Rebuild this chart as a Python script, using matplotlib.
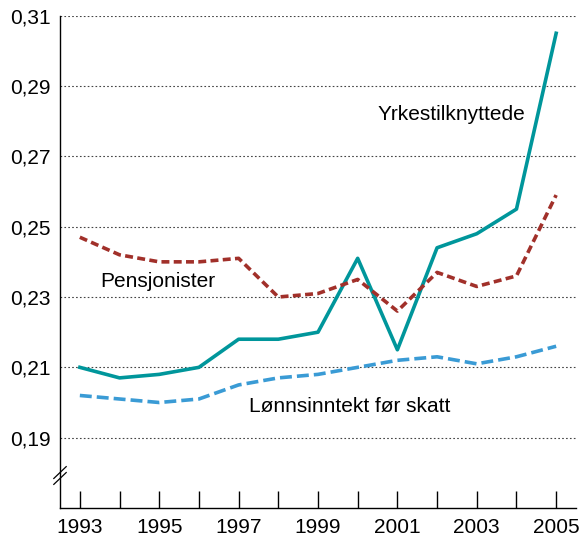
import matplotlib.pyplot as plt

years = list(range(1993, 2006))
yrkestilknyttede = [0.210, 0.207, 0.208, 0.210, 0.218, 0.218, 0.220, 0.241, 0.215, 0.244, 0.248, 0.255, 0.305]
pensjonister = [0.247, 0.242, 0.240, 0.240, 0.241, 0.230, 0.231, 0.235, 0.226, 0.237, 0.233, 0.236, 0.259]
lonnsinntekt = [0.202, 0.201, 0.200, 0.201, 0.205, 0.207, 0.208, 0.210, 0.212, 0.213, 0.211, 0.213, 0.216]
y_ticks = [0.19, 0.21, 0.23, 0.25, 0.27, 0.29, 0.31]
y_labels = ['0,19', '0,21', '0,23', '0,25', '0,27', '0,29', '0,31']

plt.rcParams['font.family'] = ['Liberation Sans', 'DejaVu Sans']

fig = plt.figure(figsize=(5.8, 5.37), dpi=100)
ax = fig.add_axes([60 / 580, 1 - 508 / 537, 516 / 580, (508 - 15.7) / 537])

# dotted gridlines under the data
for yv in y_ticks:
    ax.axhline(yv, color='#444444', lw=0.8, ls=(0, (1.5, 2)), zorder=1)

ax.plot(years, yrkestilknyttede, color='#00969b', lw=2.6, zorder=3)
ax.plot(years, pensjonister, color='#a1302a', lw=2.6, ls=(0, (2.2, 1.2)), zorder=3)
ax.plot(years, lonnsinntekt, color='#3a9bd5', lw=2.6, ls=(0, (3.3, 1.4)), zorder=3)

# series labels
ax.text(2002.37, 0.2819, 'Yrkestilknyttede', fontsize=15, ha='center', va='center')
ax.text(1994.96, 0.2344, 'Pensjonister', fontsize=15, ha='center', va='center')
ax.text(1999.8, 0.1988, 'Lønnsinntekt før skatt', fontsize=15, ha='center', va='center')

ax.set_xlim(1992.5, 2005.5)
ax.set_ylim(0.17, 0.31)
ax.set_xticks(years)
ax.set_xticklabels([str(y) if y % 2 == 1 else '' for y in years])
ax.set_yticks(y_ticks)
ax.set_yticklabels(y_labels)

ax.tick_params(axis='x', direction='in', length=12, width=1, labelsize=15, pad=7)
ax.tick_params(axis='y', length=0, labelsize=15, pad=7)

for side in ['top', 'right']:
    ax.spines[side].set_visible(False)
for side in ['left', 'bottom']:
    ax.spines[side].set_linewidth(1)

# axis break marks on the y axis
for off in (-0.006, 0.006):
    ax.plot([-0.012, 0.012], [0.066 + off - 0.012, 0.066 + off + 0.012],
            transform=ax.transAxes, color='black', lw=0.9, clip_on=False, zorder=4)

fig.savefig('out.png', dpi=100)
